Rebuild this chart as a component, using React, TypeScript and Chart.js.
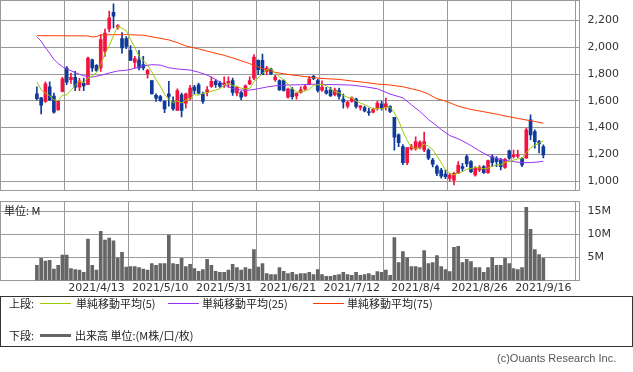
import React, { useEffect, useRef } from 'react';
import { Chart, registerables } from 'chart.js';

Chart.register(...registerables);

// ---- Data (trading-day index 0 = 2021/3/24 ... 119 = 2021/9/16) ----
const opens = [
  1652, 1622, 1595, 1705, 1635, 1532, 1670, 1845, 1757, 1775,
  1702, 1732, 1720, 1907, 1865, 1845, 1970, 2137, 2262, 2150,
  2065, 2065, 1977, 1887, 1907, 1870, 1802, 1752, 1640, 1632,
  1595, 1652, 1595, 1527, 1645, 1582, 1620, 1702, 1720, 1652,
  1662, 1707, 1745, 1732, 1720, 1732, 1752, 1657, 1662, 1637,
  1727, 1770, 1902, 1902, 1820, 1837, 1757, 1752, 1752, 1627,
  1687, 1637, 1662, 1687, 1720, 1782, 1752, 1680, 1677, 1682,
  1645, 1677, 1612, 1560, 1595, 1612, 1550, 1550, 1520, 1515,
  1545, 1577, 1552, 1557, 1477, 1345, 1257, 1137, 1240, 1240,
  1250, 1232, 1232, 1157, 1107, 1082, 1052, 1020, 1007, 1057,
  1107, 1182, 1145, 1045, 1082, 1107, 1062, 1182, 1170, 1157,
  1102, 1225, 1182, 1185, 1170, 1170, 1457, 1370, 1295, 1257,
];
const highs = [
  1705, 1625, 1742, 1742, 1657, 1595, 1775, 1855, 1805, 1820,
  1767, 1770, 1927, 1912, 1870, 2095, 2137, 2270, 2325, 2170,
  2110, 2080, 2012, 1932, 1977, 1932, 1835, 1752, 1652, 1640,
  1602, 1745, 1630, 1690, 1657, 1657, 1715, 1715, 1732, 1665,
  1707, 1780, 1757, 1745, 1780, 1780, 1770, 1702, 1670, 1720,
  1780, 1945, 1907, 1950, 1857, 1845, 1790, 1757, 1757, 1695,
  1700, 1657, 1705, 1720, 1782, 1790, 1760, 1750, 1700, 1700,
  1695, 1695, 1650, 1597, 1630, 1620, 1565, 1560, 1545, 1545,
  1597, 1597, 1620, 1565, 1477, 1352, 1272, 1250, 1275, 1330,
  1300, 1365, 1240, 1170, 1120, 1095, 1082, 1057, 1065, 1145,
  1132, 1195, 1152, 1107, 1115, 1115, 1157, 1195, 1182, 1170,
  1170, 1232, 1232, 1232, 1175, 1395, 1495, 1382, 1305, 1270,
];
const lows = [
  1607, 1502, 1587, 1600, 1507, 1530, 1667, 1720, 1730, 1675,
  1675, 1675, 1720, 1820, 1820, 1820, 1932, 2115, 2145, 2135,
  1957, 1990, 1902, 1845, 1830, 1830, 1770, 1652, 1595, 1595,
  1512, 1560, 1527, 1527, 1480, 1545, 1607, 1652, 1652, 1580,
  1637, 1700, 1700, 1700, 1700, 1700, 1640, 1637, 1607, 1632,
  1720, 1757, 1795, 1795, 1795, 1795, 1745, 1677, 1672, 1620,
  1612, 1612, 1657, 1680, 1720, 1757, 1665, 1670, 1650, 1632,
  1637, 1612, 1545, 1545, 1590, 1545, 1530, 1517, 1490, 1510,
  1530, 1530, 1530, 1512, 1230, 1257, 1122, 1122, 1230, 1230,
  1240, 1220, 1160, 1105, 1040, 1022, 1017, 1000, 970, 1057,
  1075, 1107, 1062, 1037, 1070, 1057, 1057, 1107, 1107, 1082,
  1095, 1162, 1170, 1175, 1107, 1170, 1307, 1245, 1210, 1172,
];
const closes = [
  1615, 1567, 1727, 1607, 1515, 1595, 1765, 1740, 1775, 1702,
  1750, 1712, 1920, 1845, 1827, 2057, 2107, 2220, 2232, 2162,
  1995, 2007, 1902, 1915, 1845, 1845, 1827, 1652, 1620, 1602,
  1540, 1632, 1540, 1677, 1527, 1652, 1695, 1677, 1657, 1595,
  1682, 1745, 1720, 1707, 1732, 1745, 1662, 1702, 1627, 1712,
  1752, 1927, 1832, 1795, 1845, 1802, 1777, 1682, 1677, 1687,
  1630, 1657, 1682, 1707, 1762, 1767, 1677, 1702, 1657, 1637,
  1680, 1632, 1592, 1590, 1620, 1557, 1562, 1525, 1512, 1537,
  1582, 1545, 1577, 1520, 1327, 1287, 1137, 1250, 1257, 1295,
  1290, 1295, 1170, 1125, 1057, 1037, 1032, 1045, 1057, 1120,
  1095, 1127, 1070, 1095, 1102, 1062, 1152, 1137, 1145, 1107,
  1162, 1170, 1195, 1195, 1120, 1382, 1345, 1295, 1277, 1195,
];
// closes of the 4 trading days before the first shown day (for the 5-day average)
const priorCloses = [1857, 1850, 1707, 1671];

// 25-day and 75-day moving averages: [day index, value]
const ma25Points = [
  [0, 2080], [1, 2045], [2, 1998], [3, 1955], [4, 1910], [5, 1878], [6, 1855],
  [7, 1838], [8, 1825], [9, 1810], [10, 1798], [11, 1787], [13, 1777], [15, 1790],
  [17, 1808], [19, 1823], [21, 1828], [23, 1843], [25, 1860], [27, 1870], [29, 1867],
  [31, 1847], [33, 1838], [36, 1830], [38, 1814], [40, 1792], [42, 1760], [44, 1720],
  [46, 1692], [48, 1680], [50, 1680], [52, 1690], [54, 1703], [56, 1712], [59, 1718],
  [62, 1720], [65, 1724], [68, 1722], [71, 1720], [74, 1717], [77, 1705], [80, 1690],
  [83, 1650], [86, 1622], [88, 1570], [90, 1520], [92, 1460], [94, 1412], [95, 1385],
  [97, 1340], [99, 1315], [100, 1300], [102, 1265], [104, 1225], [106, 1190],
  [108, 1168], [110, 1155], [112, 1145], [114, 1137], [116, 1138], [118, 1143], [119, 1148],
];
const ma75Points = [
  [0, 2087], [12, 2085], [13, 2077], [14, 2080], [15, 2093], [21, 2095], [25, 2090],
  [28, 2073], [31, 2055], [33, 2035], [35, 2010], [38, 1988], [41, 1963], [44, 1940],
  [47, 1910], [50, 1878], [53, 1840], [56, 1812], [59, 1797], [62, 1785], [65, 1773],
  [68, 1765], [71, 1760], [74, 1748], [77, 1738], [80, 1725], [83, 1718], [86, 1705],
  [88, 1690], [90, 1675], [92, 1650], [94, 1615], [96, 1598], [99, 1560], [102, 1535],
  [105, 1518], [108, 1500], [111, 1480], [114, 1462], [117, 1445], [119, 1432],
];

// volume in millions
const volumes = [
  3.3, 4.8, 4.2, 4.4, 2.5, 3.3, 5.5, 5.5, 2.6, 2.4,
  2.25, 1.75, 9.0, 3.3, 2.25, 10.7, 8.8, 9.2, 8.6, 4.9,
  6.1, 2.9, 3.0, 3.0, 2.8, 2.5, 2.25, 3.7, 3.3, 3.7,
  3.7, 9.85, 3.7, 3.5, 4.8, 3.0, 3.5, 2.6, 2.0, 2.4,
  4.6, 3.3, 2.0, 1.75, 1.75, 2.25, 3.5, 2.8, 2.25, 2.8,
  2.5, 6.7, 2.9, 3.7, 1.5, 1.3, 1.3, 2.8, 2.0, 1.5,
  1.75, 1.3, 1.5, 1.5, 1.75, 1.3, 2.4, 1.3, 0.9, 0.9,
  1.1, 1.3, 1.75, 1.3, 1.1, 1.75, 1.1, 1.3, 1.5, 1.1,
  1.95, 1.75, 2.25, 1.1, 9.35, 3.9, 6.3, 4.9, 3.0, 3.0,
  2.8, 6.5, 3.7, 3.9, 5.4, 3.0, 2.4, 1.95, 7.2, 7.4,
  3.9, 4.6, 4.1, 2.8, 2.8, 1.75, 2.8, 5.0, 3.3, 3.3,
  4.8, 3.7, 2.6, 2.4, 2.8, 15.9, 11.1, 6.7, 5.65, 4.8,
];

const tickPositions = [14, 29, 44, 59, 74, 89, 104, 119];
const tickLabels = ['2021/4/13', '2021/5/10', '2021/5/31', '2021/6/21', '2021/7/12', '2021/8/4', '2021/8/26', '2021/9/16'];
const priceTicks = [1000, 1200, 1400, 1600, 1800, 2000, 2200];
const volumeTicks = [5, 10, 15];

// ---- Styling ----
const W = 633;
const H = 372;
const X_MIN = -8.67;
const X_MAX = 127.5;
const PLOT_RIGHT = 579.5;
const GRID = '#9a9a9a';
const UP = '#F4123F';
const DOWN = '#0E3A9A';
const TICK_FONT = { family: '"DejaVu Sans", Verdana, sans-serif', size: 11 };

const framePlugin = {
  id: 'frame',
  beforeDatasetsDraw(chart: any) {
    const { ctx, chartArea: a } = chart;
    ctx.save();
    ctx.strokeStyle = GRID;
    ctx.lineWidth = 1;
    const l = Math.floor(a.left) + 0.5;
    const t = Math.floor(a.top) + 0.5;
    const r = Math.floor(a.right) + 0.5;
    const b = Math.floor(a.bottom) + 0.5;
    ctx.strokeRect(l, t, r - l, b - t);
    ctx.restore();
  },
};

const zeroPad = (s: any) => {
  s.paddingTop = 0;
  s.paddingBottom = 0;
  s.paddingLeft = 0;
  s.paddingRight = 0;
};

export default function App() {
  const priceRef = useRef<HTMLCanvasElement>(null);
  const volRef = useRef<HTMLCanvasElement>(null);

  useEffect(() => {
    const colors = closes.map((c, i) => (c >= opens[i] ? UP : DOWN));
    const allCloses = [...priorCloses, ...closes];
    const ma5 = closes.map((_, i) => {
      let s = 0;
      for (let k = i; k < i + 5; k++) s += allCloses[k];
      return { x: i, y: s / 5 };
    });

    const price = new Chart(priceRef.current!, {
      type: 'bar',
      data: {
        datasets: [
          { type: 'line', data: ma5, borderColor: '#99CC00', borderWidth: 1, pointRadius: 0, tension: 0 } as any,
          { type: 'line', data: ma25Points.map(([x, y]) => ({ x, y })), borderColor: '#9B30F5', borderWidth: 1, pointRadius: 0, tension: 0 } as any,
          { type: 'line', data: ma75Points.map(([x, y]) => ({ x, y })), borderColor: '#FF3A00', borderWidth: 1, pointRadius: 0, tension: 0 } as any,
          {
            type: 'bar',
            data: closes.map((c, i) => ({ x: i, y: [opens[i], c] })),
            backgroundColor: colors,
            barThickness: 3,
            grouped: false,
            minBarLength: 1,
          } as any,
          {
            type: 'bar',
            data: closes.map((_, i) => ({ x: i, y: [lows[i], highs[i]] })),
            backgroundColor: colors,
            barThickness: 1,
            grouped: false,
          } as any,
        ],
      },
      options: {
        animation: false,
        responsive: false,
        events: [],
        layout: { padding: { left: 0, top: 0.5, right: 0, bottom: H - 190.5 } },
        plugins: { legend: { display: false }, tooltip: { enabled: false } },
        scales: {
          x: {
            type: 'linear',
            min: X_MIN,
            max: X_MAX,
            offset: false,
            afterBuildTicks: (s: any) => {
              s.ticks = tickPositions.map((v) => ({ value: v }));
            },
            afterFit: (s: any) => {
              s.height = 0;
              zeroPad(s);
            },
            ticks: { display: false },
            grid: { color: GRID, drawTicks: false },
            border: { display: false },
          },
          y: {
            type: 'linear',
            position: 'right',
            min: 929,
            max: 2350,
            afterBuildTicks: (s: any) => {
              s.ticks = priceTicks.map((v) => ({ value: v }));
            },
            afterFit: (s: any) => {
              s.width = W - PLOT_RIGHT;
              zeroPad(s);
            },
            ticks: {
              padding: 8,
              color: '#333',
              font: TICK_FONT,
              callback: (v: any) => Number(v).toLocaleString('en-US'),
            },
            grid: { color: GRID, drawTicks: false },
            border: { display: false },
          },
        },
      } as any,
      plugins: [framePlugin],
    });

    const vol = new Chart(volRef.current!, {
      type: 'bar',
      data: {
        datasets: [
          {
            data: volumes.map((v, i) => ({ x: i, y: v })),
            backgroundColor: '#666666',
            barThickness: 3,
          } as any,
        ],
      },
      options: {
        animation: false,
        responsive: false,
        events: [],
        layout: { padding: { left: 0, top: 201.5, right: 0, bottom: H - 280.5 - 20 } },
        plugins: { legend: { display: false }, tooltip: { enabled: false } },
        scales: {
          x: {
            type: 'linear',
            min: X_MIN,
            max: X_MAX,
            offset: false,
            afterBuildTicks: (s: any) => {
              s.ticks = tickPositions.map((v) => ({ value: v }));
            },
            afterFit: (s: any) => {
              s.height = 20;
              zeroPad(s);
            },
            ticks: {
              autoSkip: false,
              maxRotation: 0,
              minRotation: 0,
              padding: 1,
              color: '#333',
              font: TICK_FONT,
              callback: (v: any) => {
                const k = tickPositions.indexOf(Number(v));
                return k >= 0 ? tickLabels[k] : '';
              },
            },
            grid: { color: GRID, drawTicks: false },
            border: { display: false },
          },
          y: {
            type: 'linear',
            position: 'right',
            min: 0,
            max: 17.17,
            afterBuildTicks: (s: any) => {
              s.ticks = volumeTicks.map((v) => ({ value: v }));
            },
            afterFit: (s: any) => {
              s.width = W - PLOT_RIGHT;
              zeroPad(s);
            },
            ticks: {
              padding: 8,
              color: '#333',
              font: TICK_FONT,
              callback: (v: any) => `${v}M`,
            },
            grid: { color: GRID, drawTicks: false },
            border: { display: false },
          },
        },
      } as any,
      plugins: [framePlugin],
    });

    return () => {
      price.destroy();
      vol.destroy();
    };
  }, []);

  const jp = '"Noto Sans CJK JP", sans-serif';
  const text = (left: number, cy: number, s: string, extra: any = {}) => (
    <div
      style={{
        position: 'absolute',
        left,
        top: cy - 8,
        height: 16,
        lineHeight: '16px',
        fontFamily: jp,
        fontSize: 11,
        color: '#222',
        whiteSpace: 'nowrap',
        ...extra,
      }}
    >
      {s}
    </div>
  );
  const line = (left: number, cy: number, color: string, thick = 1) => (
    <div
      style={{
        position: 'absolute',
        left,
        top: cy - Math.floor(thick / 2),
        width: 31,
        height: thick,
        background: color,
      }}
    />
  );

  return (
    <div style={{ position: 'fixed', left: 0, top: 0, width: W, height: H, background: '#fff', overflow: 'hidden' }}>
      <canvas ref={priceRef} width={W} height={H} style={{ position: 'absolute', left: 0, top: 0, width: W, height: H }} />
      <canvas ref={volRef} width={W} height={H} style={{ position: 'absolute', left: 0, top: 0, width: W, height: H }} />
      {text(4, 210, '単位: M')}
      <div style={{ position: 'absolute', left: 0, top: 296, width: 631, height: 49, border: '1px solid #333' }} />
      {text(9, 303, '上段:')}
      {line(40, 303, '#99CC00')}
      {text(76, 303, '単純移動平均(5)')}
      {line(168, 303, '#9B30F5')}
      {text(202, 303, '単純移動平均(25)')}
      {line(313, 303, '#FF3A00')}
      {text(347, 303, '単純移動平均(75)')}
      {text(9, 335, '下段:')}
      {line(40, 335, '#666666', 3)}
      {text(75, 335, '出来高 単位:(M株/口/枚)')}
      {text(497, 358, '(c)Ouants Research Inc.', { fontFamily: '"Liberation Sans", Arial, sans-serif', color: '#555' })}
    </div>
  );
}
